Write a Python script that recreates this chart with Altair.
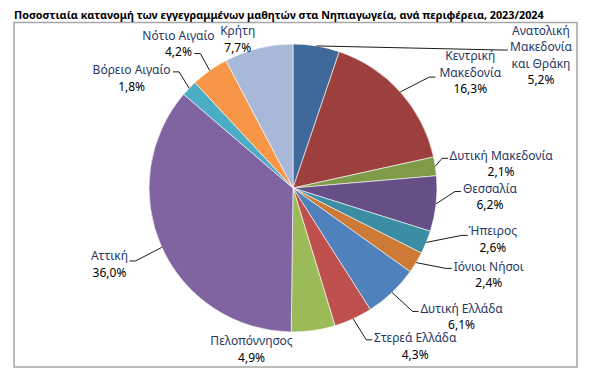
import math
import altair as alt
import pandas as pd

# ---------------- data ----------------
title_text = "Ποσοστιαία κατανομή των εγγεγραμμένων μαθητών στα Νηπιαγωγεία, ανά περιφέρεια, 2023/2024"
regions = ["Ανατολική Μακεδονία και Θράκη", "Κεντρική Μακεδονία", "Δυτική Μακεδονία",
           "Θεσσαλία", "Ήπειρος", "Ιόνιοι Νήσοι", "Δυτική Ελλάδα", "Στερεά Ελλάδα",
           "Πελοπόννησος", "Αττική", "Βόρειο Αιγαίο", "Νότιο Αιγαίο", "Κρήτη"]
shares = [5.2, 16.3, 2.1, 6.2, 2.6, 2.4, 6.1, 4.3, 4.9, 36.0, 1.8, 4.2, 7.7]
label_lines = [["Ανατολική", "Μακεδονία", "και Θράκη"], ["Κεντρική", "Μακεδονία"],
               ["Δυτική Μακεδονία"], ["Θεσσαλία"], ["Ήπειρος"], ["Ιόνιοι Νήσοι"],
               ["Δυτική Ελλάδα"], ["Στερεά Ελλάδα"], ["Πελοπόννησος"], ["Αττική"],
               ["Βόρειο Αιγαίο"], ["Νότιο Αιγαίο"], ["Κρήτη"]]

# ---------------- style ----------------
colors = ["#3F689B", "#9D403D", "#7F9B48", "#664E86", "#3A8DA3", "#CD7A37", "#4F81BD",
          "#C0504D", "#9BBB59", "#8064A2", "#4BACC6", "#F79646", "#A8B8D8"]
CX, CY, R = 285, 180, 144          # pie centre / radius in view pixels
LINE_H = 16.5
FONT = "Noto Sans"
# label centre offset from the slice's outer edge point
label_offset = [(224.5, 9.6), (70, -19.3), (65.7, -2.5), (53.8, -6.8), (66.5, -3),
                (72.6, 12.3), (69.5, 24.4), (62, 27.5), (-61.8, 19.1), (-52.3, 17.1),
                (-57.5, -9.9), (-31.3, -26.5), (-20.7, -8.5)]
# leader end point relative to label centre (None = no leader line)
leader_end = [(-33, -5.5), (-35, 4.5), (-53, -5.5), (-29, -5.5), (-25, -4),
              (-37, -6.5), (-43, -5.5), (-43, -6.5), None, (20, -3.5),
              (41.5, -6.5), (16, 9.5), None]

# ---------------- derived tables ----------------
total = sum(shares)
pie_df = pd.DataFrame({"region": regions, "share": shares, "idx": list(range(len(regions)))})

text_rows, leader_rows = [], []
cum = 0.0
for i, (reg, v) in enumerate(zip(regions, shares)):
    mid = (cum + v / 2) / total * 2 * math.pi
    cum += v
    ex, ey = CX + R * math.sin(mid), CY - R * math.cos(mid)
    cx, cy = ex + label_offset[i][0], ey + label_offset[i][1]
    lines = label_lines[i] + [f"{v:.1f}%".replace(".", ",")]
    n = len(lines)
    for j, t in enumerate(lines):
        text_rows.append({"t": t, "px": cx, "py": cy + (j - (n - 1) / 2) * LINE_H,
                          "kind": "pct" if j == n - 1 else "name"})
    if leader_end[i] is not None:
        lx, ly = cx + leader_end[i][0], cy + leader_end[i][1]
        side = 1 if lx > ex else -1
        pts = [(ex, ey), (lx - side * 6, ly), (lx, ly)]
        for k, (px, py) in enumerate(pts):
            leader_rows.append({"region": reg, "k": k, "px": px, "py": py})

text_df = pd.DataFrame(text_rows)
leader_df = pd.DataFrame(leader_rows)
one = pd.DataFrame({"a": [0]})

# ---------------- chart ----------------
frame = alt.Chart(one).mark_rect(filled=False, stroke="#A6A6A6", strokeWidth=1.5).encode(
    x=alt.value(6), x2=alt.value(569), y=alt.value(14.5), y2=alt.value(359))

title = alt.Chart(one).mark_text(text=title_text, font=FONT, fontSize=10.8, fontWeight="bold",
                                 align="left", baseline="top", color="black").encode(
    x=alt.value(6), y=alt.value(1.5))

pie = alt.Chart(pie_df).mark_arc(radius=R, stroke="white", strokeWidth=0.6).encode(
    theta=alt.Theta("share:Q", stack=True),
    color=alt.Color("region:N", scale=alt.Scale(domain=regions, range=colors), legend=None),
    order=alt.Order("idx:Q"),
    x=alt.value(CX), y=alt.value(CY))

leaders = alt.Chart(leader_df).mark_line(color="black", strokeWidth=0.9).encode(
    x=alt.X("px:Q", scale=None), y=alt.Y("py:Q", scale=None),
    detail="region:N", order="k:Q")

labels = alt.Chart(text_df).mark_text(font=FONT, fontSize=12, align="center", baseline="middle").encode(
    x=alt.X("px:Q", scale=None), y=alt.Y("py:Q", scale=None), text="t:N",
    color=alt.Color("kind:N", scale=alt.Scale(domain=["name", "pct"], range=["#1F3864", "#000000"]),
                    legend=None))

chart = alt.layer(frame, title, pie, leaders, labels).resolve_scale(color="independent").properties(
    width=574, height=363, autosize=alt.AutoSizeParams(type="none"), padding=0
).configure_view(stroke=None)

chart.save("out.html", embed_options={"renderer": "svg", "actions": False})
